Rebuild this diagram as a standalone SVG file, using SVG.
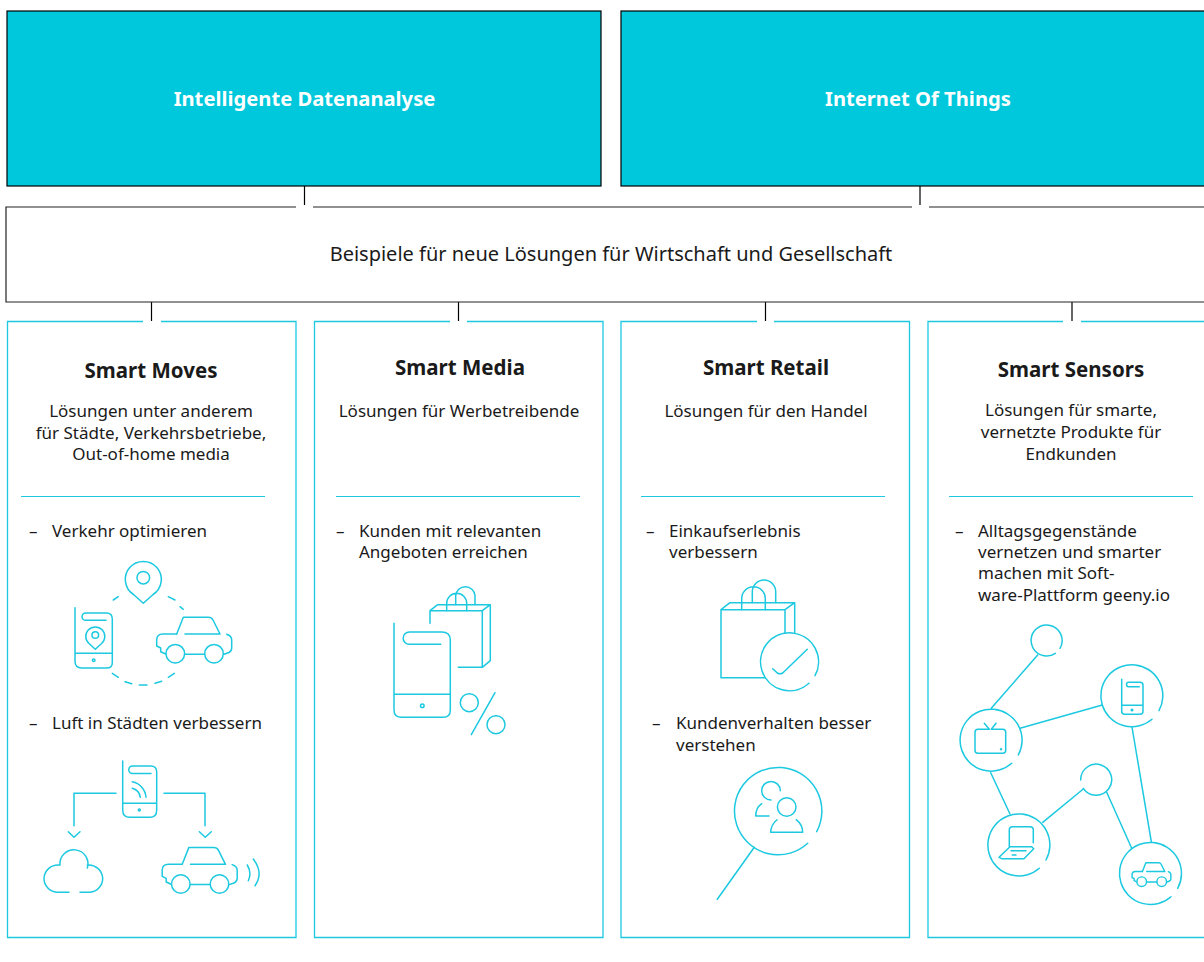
<svg xmlns="http://www.w3.org/2000/svg" width="1204" height="962" viewBox="0 0 1204 962">
<style>
text{font-family:"Noto Sans","Open Sans","Liberation Sans",sans-serif;fill:#1a1a1a;font-size:17px}
#node-moves text,#node-media text,#node-retail text,#node-sensors text{transform:translateY(1px)}
.c{text-anchor:middle}
.h{font-weight:700;font-size:20.5px}
.t{font-weight:700;font-size:20.2px;fill:#fff;text-anchor:middle}
.top{fill:#00c8dc;stroke:#000;stroke-width:1.2}
.mid{fill:#fff;stroke:#222;stroke-width:1.2}
.p{fill:#fff;stroke:#1cc9e0;stroke-width:1.3}
.r{fill:none;stroke:#1cc9e0;stroke-width:1.1}
.i{fill:none;stroke:#1cc9e0;stroke-width:1.5;stroke-linecap:round;stroke-linejoin:round}
.tick{fill:none;stroke:#000;stroke-width:1.2}
</style>
<defs>
<g id="car">
<path d="M176.7,634L183.3,617.3H208.3Q211.5,617.3 213,620L220,634H185"/>
<path d="M176.7,634H163Q156.7,634 156.7,640V646L160.7,648V651.7L165.7,654"/>
<circle cx="175.3" cy="653.7" r="9.3"/><circle cx="214" cy="653.7" r="9.3"/>
<path d="M185,654.3H204.3M224,654.3L229,652.5Q231.7,651 231.7,648V640Q231.7,636 226.7,634.3"/>
</g>
</defs>
<rect width="1204" height="962" fill="#fff"/>
<g id="connectors" class="tick">
<path d="M304.5,186V205M920,186V205M151.5,302V321M458.5,302V321M765.5,302V321M1072,302V321"/>
</g>
<g id="node-analyse"><rect class="top" x="7" y="11" width="594" height="175"/><text class="t" x="304.5" y="106">Intelligente Datenanalyse</text></g>
<g id="node-iot"><rect class="top" x="621" y="11" width="600" height="175"/><text class="t" x="918" y="106">Internet Of Things</text></g>
<g id="node-beispiele">
<path class="mid" d="M296,207H6V302H1220V207H929M912,207H313"/>
<text class="c" x="611" y="261" style="font-size:20px">Beispiele für neue Lösungen für Wirtschaft und Gesellschaft</text>
</g>
<g id="node-moves">
<path class="p" d="M143,321.500H7.500V937.500H296V321.500H161"/>
<text class="h c" x="151" y="377">Smart Moves</text>
<text class="c" x="151" y="416">Lösungen unter anderem</text>
<text class="c" x="151" y="438">für Städte, Verkehrsbetriebe,</text>
<text class="c" x="151" y="459">Out-of-home media</text>
<path class="r" d="M21,496.500H265"/>
<text x="29" y="536">–</text><text x="52" y="536">Verkehr optimieren</text>
<g class="i">
<circle cx="143.300" cy="577.700" r="6.300"/>
<path d="M143.300,603.300L133.500,594.500A18,18 0 1 1 153.100,594.500Z"/>
<path d="M113.300,600L118.300,596.700M168.300,596.700L175,600M180,606.700L183.300,609.300M112.300,673.300L118.300,677.300M125,681.700L131.700,683.700M139.300,685H147M155,683.300L161.700,681.300M168.300,677.300L174.300,673.300"/>
<path d="M75,607.700V661Q75,668 81.700,668H106.700Q112.300,668 112.300,662.700V619.300Q112.300,613 106.700,613H85.700A3.650,3.650 0 0 0 85.700,620.300H106M75,653.300H112.300"/>
<circle cx="93.700" cy="660.300" r="1.300"/>
<circle cx="95.300" cy="635" r="3.300"/>
<path d="M95.300,649.300L89,643.500A9.500,9.500 0 1 1 101.600,643.500Z"/>
<use href="#car"/>
</g>
<text x="29" y="728">–</text><text x="52" y="728">Luft in Städten verbessern</text>
<g class="i">
<path d="M122.700,761V810Q122.700,817.300 129.700,817.300H150Q156.700,817.300 156.700,810V772Q156.700,766 150.700,766H132.500A3.700,3.700 0 0 0 132.500,773.500H151M122.700,803.300H156.700"/>
<circle cx="139.300" cy="810" r="1"/>
<path d="M132.300,781.700A17,17 0 0 1 146,797.300M132.300,788.300A11,11 0 0 1 140.300,797.300"/>
<path d="M116,793.300H74V825.700M164,793.300H205V825.700M68.300,831.700L74,837.300L80,831.700M199.300,831.700L205.300,837.300L211.300,831.700"/>
<path d="M69,892.300H56.700A14,14 0 0 1 44,878.300A14,14 0 0 1 59.300,865M60,865A14,14 0 1 1 87.300,868M87.300,865A14,14 0 0 1 102.700,878.300A14,14 0 0 1 90,892.300H80"/>
<use href="#car" transform="translate(5.500,230.300)"/>
<path d="M247.300,865Q252,873 248.300,880.700M253.300,859Q264,873 255,885.700"/>
</g>
</g>
<g id="node-media">
<path class="p" d="M450,321.500H314.500V937.500H603V321.500H467"/>
<text class="h c" x="460" y="374">Smart Media</text>
<text class="c" x="459" y="416">Lösungen für Werbetreibende</text>
<path class="r" d="M336,496.500H580"/>
<text x="336" y="536">–</text><text x="359" y="536">Kunden mit relevanten</text><text x="359" y="557">Angeboten erreichen</text>
<g class="i">
<path d="M394,623.300V710Q394,717.300 401.700,717.300H443.300Q450.300,717.300 450.300,710V640Q450.300,632 441.700,632H409.300A6.150,6.150 0 0 0 409.300,644.300H440.700M394,694.300H450.300"/>
<circle cx="422.300" cy="705.700" r="1.800"/>
<path d="M430,623.300V610.700H482.300V667.300H458.300M430,610.700L437.700,604.700H490.300V660.700L482.300,667.300M482.300,610.700L490.300,604.700"/>
<path d="M446.700,610.700V603.300A10,10 0 0 1 466.700,603.300V610.700M455.700,604.700V595.500A9.700,9.700 0 0 1 475,595.500V604.700"/>
<circle cx="469.300" cy="702.700" r="9"/><circle cx="496" cy="724.700" r="9"/>
<path d="M495,692.700L471.300,734.700"/>
</g>
</g>
<g id="node-retail">
<path class="p" d="M757,321.500H621V937.500H909.500V321.500H774"/>
<text class="h c" x="766" y="374">Smart Retail</text>
<text class="c" x="766" y="416">Lösungen für den Handel</text>
<path class="r" d="M641,496.500H885"/>
<text x="646" y="536">–</text><text x="669" y="536">Einkaufserlebnis</text><text x="669" y="557">verbessern</text>
<g class="i">
<path d="M785,632.700V609.700H721V677.700H765M721,609.700L730,602.700H794.700V632.700M785,609.700L794.700,602.700"/>
<path d="M741.700,609.700V598.500A11.800,11.800 0 0 1 765.300,598.500V609.700M752.300,602.700V591.700A11.700,11.700 0 0 1 775.700,591.700V602.700"/>
<path d="M809,683.300A29,29 0 1 1 815,675.700"/>
<path d="M772.700,668.700L777.300,673Q780,674.500 782.700,673L807.300,649.300"/>
</g>
<text x="652" y="728">–</text><text x="676" y="728">Kundenverhalten besser</text><text x="676" y="750">verstehen</text>
<g class="i">
<path d="M807.700,843.300A43.700,43.700 0 1 1 816.700,831.700"/>
<path d="M754.300,847.300L717.300,899.300"/>
<circle cx="786.700" cy="807" r="9.300"/>
<path d="M777,819.700Q770.700,825 770.700,832.300H802.700Q802.700,825 796.300,819.700"/>
<path d="M780.300,790.700A9.300,9.300 0 1 0 771,800M769,816H755.700Q755.700,808 761.700,803.700"/>
</g>
</g>
<g id="node-sensors">
<path class="p" d="M1063,321.500H928V937.500H1220V321.500H1081"/>
<text class="h c" x="1071" y="376">Smart Sensors</text>
<text class="c" x="1071" y="415">Lösungen für smarte,</text>
<text class="c" x="1071" y="437">vernetzte Produkte für</text>
<text class="c" x="1071" y="459">Endkunden</text>
<path class="r" d="M949,496.500H1193"/>
<text x="955" y="536">–</text><text x="978" y="536">Alltagsgegenstände</text><text x="978" y="557">vernetzen und smarter</text><text x="978" y="578">machen mit Soft-</text><text x="978" y="600">ware-Plattform geeny.io</text>
<g class="i">
<path d="M1060,648.300A15.500,15.500 0 1 0 1055.300,653.300"/>
<path d="M1159,710.700A31,31 0 1 0 1152,719.300"/>
<path d="M1018.300,755A31,31 0 1 0 1011.700,763.300"/>
<path d="M1046,860A31,31 0 1 0 1039.300,868.300"/>
<path d="M1080.700,780A15.500,15.500 0 1 1 1083.300,788.300"/>
<path d="M1177.700,888.300A31,31 0 1 0 1171,896.700"/>
<path d="M1037.700,655L991.300,708.300M1020,728.300L1102.300,705M1132,727L1151.300,841.700M990.700,772.700L1010,814M1083.300,789L1042.700,822.300M1106.700,792.300L1131.700,848.300"/>
<path d="M989.300,729.300H978Q975,729.300 975,732.300V750.300Q975,753.300 978,753.300H1002.700Q1005.700,753.300 1005.700,750.300V732.300Q1005.700,729.300 1002.700,729.300H991.300M984.300,723.300L989.300,729.300M996,723.300L991.300,729.300"/>
<circle cx="1001" cy="749.300" r=".5"/>
<path d="M1121.700,679.300V711.300Q1121.700,714.300 1124.700,714.300H1140Q1143,714.300 1143,711.300V685.300Q1143,682.300 1140,682.300H1128.700A2.200,2.200 0 0 0 1128.700,686.700H1139.300M1121.700,705.300H1143"/>
<circle cx="1132" cy="710" r=".8"/>
<path d="M1009.300,846.700V830Q1009.300,826.700 1012.700,826.700H1030Q1033.300,826.700 1033.300,830V842.700M1010,846.700H1031.700L1033.700,848.700L1024,858.700H1001.700L999,857.300ZM1011,850.700H1026M1012.300,855H1016"/>
<g transform="translate(1051.070,543.700) scale(.517)" style="stroke-width:2.800"><use href="#car"/></g>
</g>
</g>
</svg>
